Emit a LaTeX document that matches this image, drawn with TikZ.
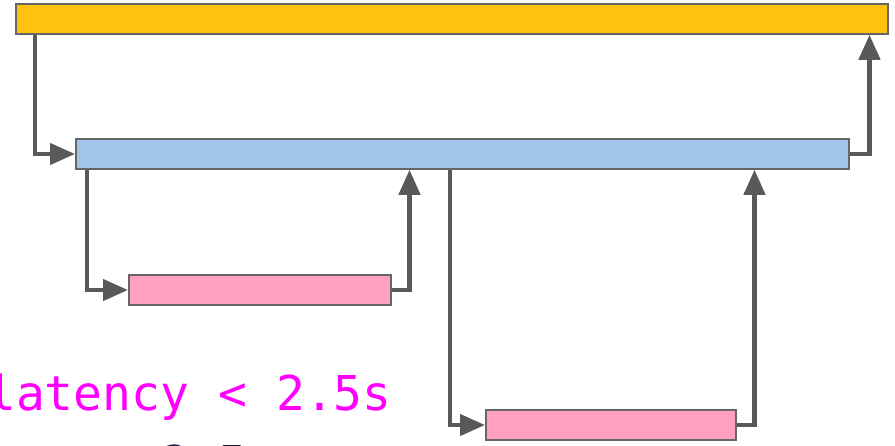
\documentclass[tikz,border=0pt]{standalone}
\usepackage{fontspec}
\setmonofont{DejaVu Sans Mono}
\usepackage{xcolor}
\usetikzlibrary{positioning,arrows.meta}
\definecolor{spanyellow}{HTML}{FFC20E}
\definecolor{spanblue}{HTML}{9FC5E8}
\definecolor{spanpink}{HTML}{FFA0C0}
\definecolor{spanedge}{HTML}{666666}
\definecolor{callgray}{HTML}{595959}
\definecolor{slopink}{HTML}{FF00FF}
\definecolor{slonavy}{HTML}{1A1A3A}
\tikzset{
span/.style={draw=spanedge, line width=1.5pt, minimum height=30pt, inner sep=0pt, anchor=west},
call/.style={draw=callgray, line width=4.5pt, -{Triangle[length=25pt,width=21pt]}},
slo/.style={anchor=base west, inner sep=0pt, font=\ttfamily\fontsize{48}{48}\selectfont}
}

\begin{document}
\begin{tikzpicture}[x=1pt,y=-1pt]
	\clip (0,0) rectangle (895,445);

	% spans
	\node[span, fill=spanyellow, minimum width=872pt] (root) at (15,19) {};
	\node[span, fill=spanblue, minimum width=773pt] (svc) at (75,154) {};
	\node[span, fill=spanpink, minimum width=262pt] (dbA) at (128,290) {};
	\node[span, fill=spanpink, minimum width=250pt] (dbB) at (485,425) {};

	% calls and returns
	\draw[call] ([xshift=20pt]root.south west) |- (svc.west);
	\draw[call] (svc.east) -| ([xshift=-19pt]root.south east);
	\draw[call] ([xshift=12pt]svc.south west) |- (dbA.west);
	\draw[call] (dbA.east) -| ([xshift=18pt]dbA.east |- svc.south);
	\draw[call] ([xshift=375pt]svc.south west) |- (dbB.west);
	\draw[call] (dbB.east) -| ([xshift=18pt]dbB.east |- svc.south);

	\node[slo, text=slopink] (target) at (-13,410) {latency < 2.5s};
	\node[slo, text=slonavy] (value) at (161,480) {2.5};
\end{tikzpicture}
\end{document}
